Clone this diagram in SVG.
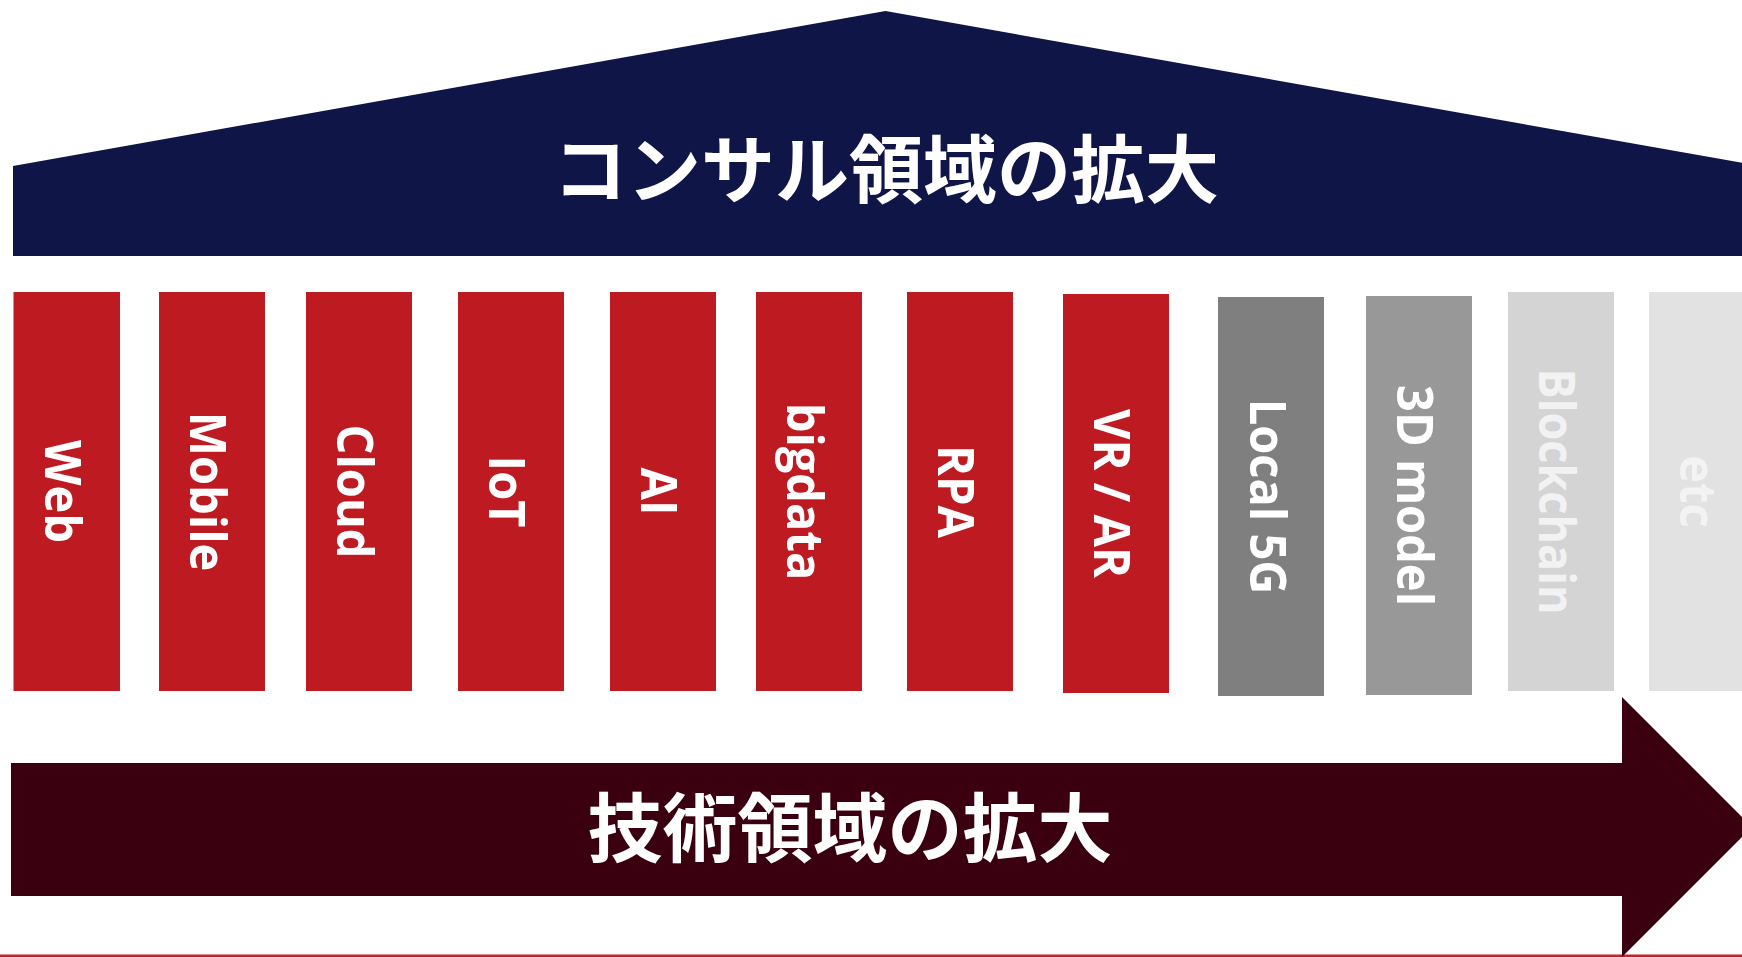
<svg xmlns="http://www.w3.org/2000/svg" width="1742" height="957" viewBox="0 0 1742 957">
<style>
.bar-red{fill:#BE1A21}
.lbl{font-family:"Open Sans","Liberation Sans",sans-serif;font-weight:700;font-size:50px;fill:#FFFFFF;text-anchor:middle}
.ttl{font-family:"Noto Sans CJK JP","Noto Sans",sans-serif;font-weight:700;fill:#FFFFFF;text-anchor:middle}
</style>
<rect width="1742" height="957" fill="#FFFFFF"/>
<g id="consulting-roof">
<polygon points="13,166 885.5,11 1760,166 1760,256 13,256" fill="#0F1547"/>
<text class="ttl" x="886" y="197" font-size="74">コンサル領域の拡大</text>
</g>
<g id="web"><rect class="bar-red" x="13.5" y="292" width="106.5" height="399"/><text class="lbl" transform="translate(45,491.5) rotate(90) scale(0.94,1)">Web</text></g>
<g id="mobile"><rect class="bar-red" x="159" y="292" width="106" height="399"/><text class="lbl" transform="translate(190,491.5) rotate(90) scale(0.94,1)">Mobile</text></g>
<g id="cloud"><rect class="bar-red" x="306" y="292" width="106" height="399"/><text class="lbl" transform="translate(337,491.5) rotate(90) scale(0.94,1)">Cloud</text></g>
<g id="iot"><rect class="bar-red" x="458" y="292" width="106" height="399"/><text class="lbl" transform="translate(489,491.5) rotate(90) scale(0.94,1)">IoT</text></g>
<g id="ai"><rect class="bar-red" x="610" y="292" width="106" height="399"/><text class="lbl" transform="translate(641,491.5) rotate(90) scale(0.94,1)">AI</text></g>
<g id="bigdata"><rect class="bar-red" x="756" y="292" width="106" height="399"/><text class="lbl" transform="translate(787,491.5) rotate(90) scale(0.94,1)">bigdata</text></g>
<g id="rpa"><rect class="bar-red" x="907" y="292" width="106" height="399"/><text class="lbl" transform="translate(938,491.5) rotate(90) scale(0.94,1)">RPA</text></g>
<g id="vrar"><rect class="bar-red" x="1063" y="294" width="106" height="399"/><text class="lbl" transform="translate(1094,493.5) rotate(90) scale(0.94,1)">VR / AR</text></g>
<g id="local5g"><rect x="1218" y="297" width="106" height="399" fill="#7F7F7F"/><text class="lbl" transform="translate(1250,496.5) rotate(90) scale(0.94,1)">Local 5G</text></g>
<g id="model3d"><rect x="1366" y="296" width="106" height="399" fill="#989898"/><text class="lbl" transform="translate(1397,495.5) rotate(90) scale(0.94,1)">3D model</text></g>
<g id="blockchain"><rect x="1508" y="292" width="106" height="399" fill="#D4D4D4"/><text class="lbl" style="fill:#F2F2F2" transform="translate(1539,491.5) rotate(90) scale(0.9,1)">Blockchain</text></g>
<g id="etc"><rect x="1649" y="292" width="106" height="399" fill="#E2E2E2"/><text class="lbl" style="fill:#F3F3F3" transform="translate(1680,491.5) rotate(90) scale(0.94,1)">etc</text></g>
<g id="connectors">
<rect x="0" y="954.5" width="1742" height="3" fill="#C0242A"/>
<polygon points="11,763 1622,763 1622,697 1752,827 1622,957 1622,896 11,896" fill="#3A0010"/>
</g>
<g id="tech-arrow-label">
<text class="ttl" x="850" y="856" font-size="75">技術領域の拡大</text>
</g>
</svg>
